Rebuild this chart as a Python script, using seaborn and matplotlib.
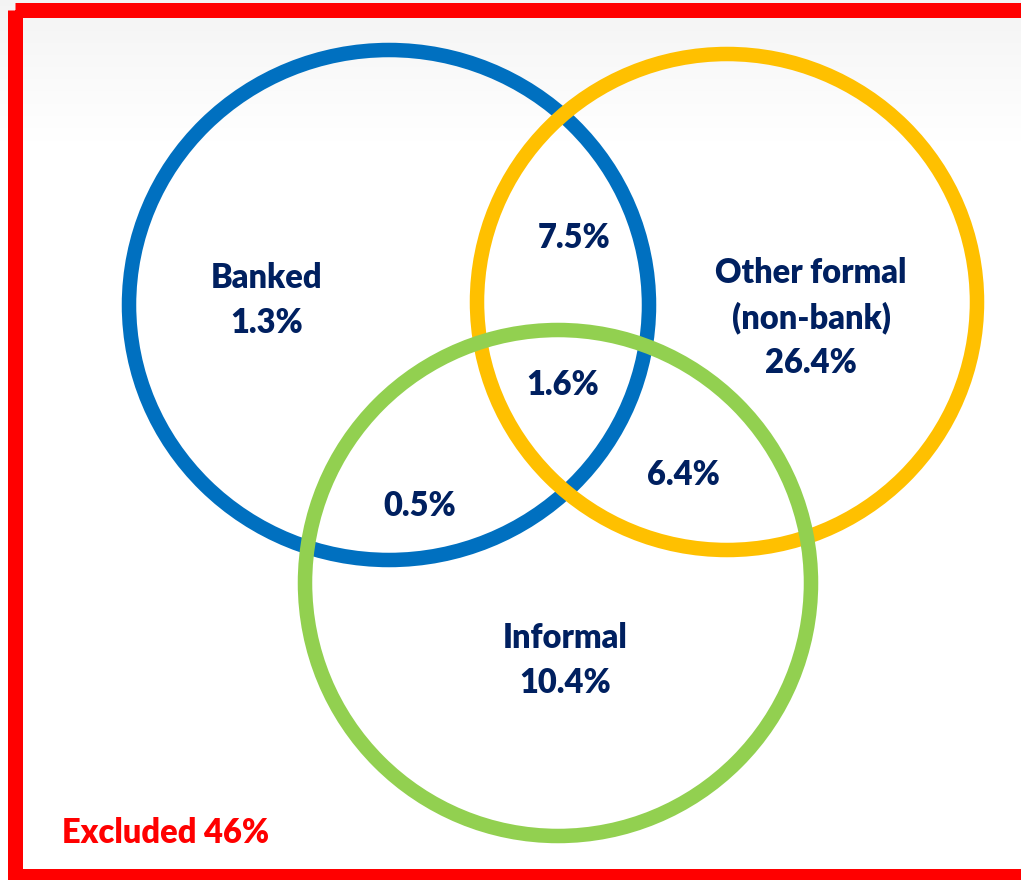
import numpy as np
import pandas as pd
import matplotlib
matplotlib.use("Agg")
import matplotlib.pyplot as plt
from matplotlib.patches import Ellipse, Rectangle
import seaborn as sns

# Share of adults by access channel (%)
set_names = ["Banked", "Other formal\n(non-bank)", "Informal"]
set_only = [1.3, 26.4, 10.4]
overlap_names = ["Banked & Other formal", "All three", "Banked & Informal", "Other formal & Informal"]
overlap_values = [7.5, 1.6, 0.5, 6.4]
excluded_label = "Excluded"
excluded_value = 46

# Layout in pixel space (figure is 1021 x 880 px)
W, H = 1021, 880
circle_geom = pd.DataFrame({
    "cx": [389, 727, 558],
    "cy": [305, 302, 583],
    "rx": [260, 250, 253],
    "ry": [255, 248, 253],
    "color": ["#0070C0", "#FFC000", "#92D050"],
})
set_label_pos = [(267, 288), (811, 283), (565, 648)]
overlap_label_pos = [(574, 248), (563, 395), (420, 516), (683, 485)]

sns.set_theme(style="white")
plt.rcParams["font.family"] = ["Lato", "DejaVu Sans"]

fig = plt.figure(figsize=(W / 100, H / 100), dpi=100)
ax = fig.add_axes([0, 0, 1, 1])
ax.set_xlim(0, W)
ax.set_ylim(H, 0)
ax.axis("off")

# soft grey-to-white backdrop
grad = np.linspace(0, 1, 300).reshape(-1, 1)
grad = np.clip(grad / 0.5, 0, 1)
top = np.array([0.955, 0.955, 0.955])
bot = np.array([1.0, 1.0, 1.0])
img = top[None, None, :] * (1 - grad[:, :, None]) + bot[None, None, :] * grad[:, :, None]
ax.imshow(img, extent=[0, W, 280, 0], aspect="auto", zorder=0)
ax.add_patch(Rectangle((0, 280), W, H - 280, facecolor="white", edgecolor="none", zorder=0))

lw_pt = 14.5 * 72 / 100
for i, row in circle_geom.iterrows():
    ax.add_patch(Ellipse((row.cx, row.cy), 2 * row.rx, 2 * row.ry, fill=False,
                         edgecolor=row.color, linewidth=lw_pt, zorder=2 + i))

txt_color = "#002060"
fs = 23.5
weight = "heavy"
line_gap = 45
for name, val, (x, y) in zip(set_names, set_only, set_label_pos):
    lines = name.split("\n") + [f"{val:.1f}%"]
    for k, ln in enumerate(lines):
        ax.text(x, y + k * line_gap, ln, ha="center", va="baseline", fontsize=fs,
                fontweight=weight, color=txt_color, zorder=10)

for val, (x, y) in zip(overlap_values, overlap_label_pos):
    ax.text(x, y, f"{val:.1f}%", ha="center", va="baseline", fontsize=fs,
            fontweight=weight, color=txt_color, zorder=10)

ax.text(62, 843, f"{excluded_label} {excluded_value}%", ha="left", va="baseline",
        fontsize=fs, fontweight=weight, color="#FF0000", zorder=10)

# red outer frame
ax.add_patch(Rectangle((14.5, 10), 1011, 866.5, fill=False, edgecolor="#FF0000",
                       linewidth=15 * 72 / 100, joinstyle="miter", zorder=12))

fig.savefig("out.png", dpi=100)
